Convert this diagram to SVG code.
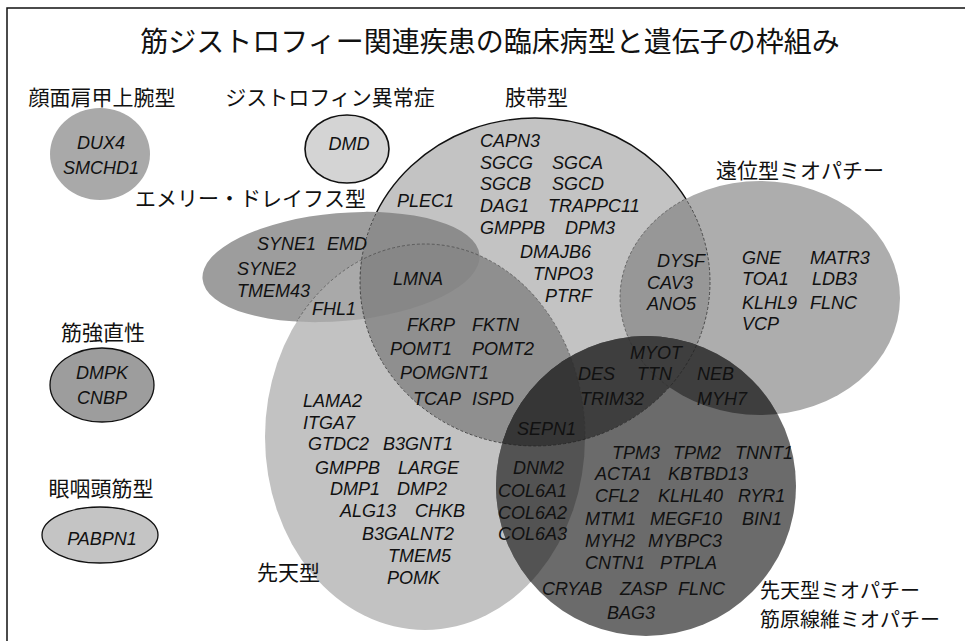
<svg xmlns="http://www.w3.org/2000/svg" width="965" height="641" viewBox="0 0 965 641">
<style>
.jp{font-family:"Noto Sans CJK JP","Noto Sans",sans-serif;fill:#111;}
.ttl{font-size:28px;}
.lbl{font-size:21px;}
.lbs{font-size:20px;}
.g{font-family:"Liberation Sans",Arial,sans-serif;font-style:italic;font-size:18px;fill:#111;}
.mid{text-anchor:middle;}
</style>
<defs>
<clipPath id="c-ed"><ellipse cx="341" cy="267" rx="139" ry="54" transform="rotate(-5 341 267)"/></clipPath>
<clipPath id="c-lg"><ellipse cx="535" cy="282" rx="175" ry="164"/></clipPath>
<clipPath id="c-cd"><ellipse cx="425" cy="437" rx="160" ry="193"/></clipPath>
<clipPath id="c-dm"><ellipse cx="760" cy="298" rx="140" ry="117"/></clipPath>
<clipPath id="c-cm"><circle cx="646" cy="486" r="150"/></clipPath>
<clipPath id="c-edlg"><ellipse cx="341" cy="267" rx="139" ry="54" transform="rotate(-5 341 267)"/><ellipse cx="535" cy="282" rx="175" ry="164"/></clipPath>
<mask id="m-solid">
<rect x="0" y="0" width="965" height="641" fill="#fff"/>
<ellipse cx="341" cy="267" rx="139" ry="54" transform="rotate(-5 341 267)" fill="#000"/>
<ellipse cx="760" cy="298" rx="140" ry="117" fill="#000"/>
<ellipse cx="425" cy="437" rx="160" ry="193" fill="#000"/>
<circle cx="646" cy="486" r="150" fill="#000"/>
</mask>
<mask id="m-dash">
<rect x="0" y="0" width="965" height="641" fill="#000"/>
<ellipse cx="341" cy="267" rx="139" ry="54" transform="rotate(-5 341 267)" fill="#fff"/>
<ellipse cx="760" cy="298" rx="140" ry="117" fill="#fff"/>
<ellipse cx="425" cy="437" rx="160" ry="193" fill="#fff"/>
<circle cx="646" cy="486" r="150" fill="#fff"/>
</mask>
</defs>

<rect x="0" y="0" width="965" height="641" fill="#fff"/>
<polyline points="7,641 7,8 965,8" fill="none" stroke="#111" stroke-width="1.5"/>

<g id="title"><text class="jp ttl mid" x="490" y="52">筋ジストロフィー関連疾患の臨床病型と遺伝子の枠組み</text></g>

<g id="node-fshd">
<ellipse cx="100" cy="154" rx="50" ry="46" fill="#a9a9a9"/>
<text class="jp lbl mid" x="102" y="105">顔面肩甲上腕型</text>
<text class="g mid" x="101" y="148.5">DUX4</text>
<text class="g mid" x="101" y="173.5">SMCHD1</text>
</g>

<g id="node-dmd">
<ellipse cx="347" cy="149" rx="42" ry="34" fill="#d4d4d4" stroke="#111" stroke-width="1.6"/>
<text class="jp lbl mid" x="330" y="105">ジストロフィン異常症</text>
<text class="g mid" x="349" y="149.5">DMD</text>
</g>

<g id="node-dm1">
<ellipse cx="102" cy="385" rx="52" ry="37" fill="#9d9d9d" stroke="#111" stroke-width="1.3"/>
<text class="jp lbl mid" x="103" y="340">筋強直性</text>
<text class="g mid" x="102" y="378.5">DMPK</text>
<text class="g mid" x="102" y="403.5">CNBP</text>
</g>

<g id="node-opmd">
<ellipse cx="100" cy="535" rx="58" ry="28" fill="#c4c4c4" stroke="#111" stroke-width="1.3"/>
<text class="jp lbl mid" x="101" y="496">眼咽頭筋型</text>
<text class="g mid" x="102" y="544.5">PABPN1</text>
</g>

<g id="node-edmd"><ellipse cx="341" cy="267" rx="139" ry="54" transform="rotate(-5 341 267)" fill="#9d9d9d"/></g>
<g id="node-lgmd"><ellipse cx="535" cy="282" rx="175" ry="164" fill="#c3c3c3"/></g>
<g id="node-cmd"><ellipse cx="425" cy="437" rx="160" ry="193" fill="#c2c2c2"/></g>
<g id="node-distal"><ellipse cx="760" cy="298" rx="140" ry="117" fill="#adadad"/></g>

<g id="overlaps">
<g clip-path="url(#c-lg)"><ellipse cx="341" cy="267" rx="139" ry="54" transform="rotate(-5 341 267)" fill="#8c8c8c"/></g>
<g clip-path="url(#c-cd)"><ellipse cx="341" cy="267" rx="139" ry="54" transform="rotate(-5 341 267)" fill="#a9a9a9"/></g>
<g clip-path="url(#c-cd)"><ellipse cx="535" cy="282" rx="175" ry="164" fill="#8f8f8f"/></g>
<g clip-path="url(#c-cd)"><g clip-path="url(#c-lg)"><ellipse cx="341" cy="267" rx="139" ry="54" transform="rotate(-5 341 267)" fill="#878787"/></g></g>
<g clip-path="url(#c-lg)"><ellipse cx="760" cy="298" rx="140" ry="117" fill="#979797"/></g>
</g>

<g id="node-cm"><circle cx="646" cy="486" r="150" fill="#6b6b6b"/></g>

<g id="overlaps-cm">
<g clip-path="url(#c-cd)"><circle cx="646" cy="486" r="150" fill="#535353"/></g>
<g clip-path="url(#c-cm)"><ellipse cx="535" cy="282" rx="175" ry="164" fill="#3e3e3e"/><ellipse cx="760" cy="298" rx="140" ry="117" fill="#3e3e3e"/></g>
<g clip-path="url(#c-cm)"><g clip-path="url(#c-cd)"><ellipse cx="535" cy="282" rx="175" ry="164" fill="#363636"/></g></g>
</g>

<g id="outlines" fill="none">
<ellipse cx="535" cy="282" rx="175" ry="164" stroke="#111" stroke-width="1.4" mask="url(#m-solid)"/>
<ellipse cx="535" cy="282" rx="175" ry="164" stroke="#222" stroke-width="1" stroke-dasharray="3 2" opacity="0.7" mask="url(#m-dash)"/>
<g clip-path="url(#c-edlg)"><ellipse cx="425" cy="437" rx="160" ry="193" stroke="#333" stroke-width="0.9" stroke-dasharray="3 2" opacity="0.6"/></g>
<g clip-path="url(#c-lg)"><ellipse cx="760" cy="298" rx="140" ry="117" stroke="#333" stroke-width="0.9" stroke-dasharray="3 2" opacity="0.6"/></g>
</g>

<g id="connectors"/>

<g id="labels">
<text class="jp lbl" x="505" y="105">肢帯型</text>
<text class="jp lbl" x="135" y="206">エメリー・ドレイフス型</text>
<text class="jp lbl" x="716" y="178">遠位型ミオパチー</text>
<text class="jp lbl" x="257" y="580">先天型</text>
<text class="jp lbs" x="760" y="598">先天型ミオパチー</text>
<text class="jp lbs" x="760" y="627">筋原線維ミオパチー</text>
</g>

<g id="genes-lgmd">
<text class="g" x="480" y="146.5">CAPN3</text>
<text class="g" x="480" y="168.5">SGCG</text><text class="g" x="552" y="168.5">SGCA</text>
<text class="g" x="480" y="189.5">SGCB</text><text class="g" x="552" y="189.5">SGCD</text>
<text class="g" x="480" y="211.5">DAG1</text><text class="g" x="548" y="211.5">TRAPPC11</text>
<text class="g" x="480" y="233.5">GMPPB</text><text class="g" x="565" y="233.5">DPM3</text>
<text class="g" x="520" y="257.5">DMAJB6</text>
<text class="g" x="533" y="280">TNPO3</text>
<text class="g" x="545" y="301.5">PTRF</text>
<text class="g" x="397" y="206.5">PLEC1</text>
</g>

<g id="genes-edmd">
<text class="g" x="257" y="249.5">SYNE1</text><text class="g" x="327" y="249.5">EMD</text>
<text class="g" x="237" y="274.5">SYNE2</text>
<text class="g" x="237" y="296.5">TMEM43</text>
<text class="g" x="312" y="314.5">FHL1</text>
<text class="g" x="393" y="284.5">LMNA</text>
</g>

<g id="genes-cmd">
<text class="g" x="407" y="330.5">FKRP</text><text class="g" x="472" y="330.5">FKTN</text>
<text class="g" x="390" y="354.5">POMT1</text><text class="g" x="472" y="354.5">POMT2</text>
<text class="g" x="400" y="378.5">POMGNT1</text>
<text class="g" x="413" y="404.5">TCAP</text><text class="g" x="472" y="404.5">ISPD</text>
<text class="g" x="303" y="406.5">LAMA2</text>
<text class="g" x="303" y="428.5">ITGA7</text>
<text class="g" x="308" y="449.5">GTDC2</text><text class="g" x="383" y="449.5">B3GNT1</text>
<text class="g" x="315" y="473.5">GMPPB</text><text class="g" x="398" y="473.5">LARGE</text>
<text class="g" x="330" y="494.5">DMP1</text><text class="g" x="397" y="494.5">DMP2</text>
<text class="g" x="340" y="516.5">ALG13</text><text class="g" x="415" y="516.5">CHKB</text>
<text class="g" x="362" y="539.5">B3GALNT2</text>
<text class="g" x="388" y="561.5">TMEM5</text>
<text class="g" x="387" y="583.5">POMK</text>
</g>

<g id="genes-distal">
<text class="g" x="657" y="266.5">DYSF</text>
<text class="g" x="647" y="288.5">CAV3</text>
<text class="g" x="647" y="309.5">ANO5</text>
<text class="g" x="742" y="263.5">GNE</text><text class="g" x="810" y="263.5">MATR3</text>
<text class="g" x="742" y="284.5">TOA1</text><text class="g" x="812" y="284.5">LDB3</text>
<text class="g" x="742" y="308.5">KLHL9</text><text class="g" x="810" y="308.5">FLNC</text>
<text class="g" x="742" y="329.5">VCP</text>
</g>

<g id="genes-cm">
<text class="g" x="630" y="358.5">MYOT</text>
<text class="g" x="578" y="379.5">DES</text><text class="g" x="637" y="379.5">TTN</text><text class="g" x="697" y="379.5">NEB</text>
<text class="g" x="580" y="404.5">TRIM32</text><text class="g" x="697" y="404.5">MYH7</text>
<text class="g" x="517" y="434.5">SEPN1</text>
<text class="g" x="612" y="458.5">TPM3</text><text class="g" x="673" y="458.5">TPM2</text><text class="g" x="735" y="458.5">TNNT1</text>
<text class="g" x="513" y="473.5">DNM2</text>
<text class="g" x="595" y="479.5">ACTA1</text><text class="g" x="668" y="479.5">KBTBD13</text>
<text class="g" x="498" y="496.5">COL6A1</text>
<text class="g" x="595" y="501.5">CFL2</text><text class="g" x="658" y="501.5">KLHL40</text><text class="g" x="738" y="501.5">RYR1</text>
<text class="g" x="498" y="518.5">COL6A2</text>
<text class="g" x="585" y="524.5">MTM1</text><text class="g" x="650" y="524.5">MEGF10</text><text class="g" x="742" y="524.5">BIN1</text>
<text class="g" x="498" y="539.5">COL6A3</text>
<text class="g" x="585" y="546.5">MYH2</text><text class="g" x="648" y="546.5">MYBPC3</text>
<text class="g" x="585" y="568.5">CNTN1</text><text class="g" x="660" y="568.5">PTPLA</text>
<text class="g" x="542" y="594.5">CRYAB</text><text class="g" x="620" y="594.5">ZASP</text><text class="g" x="678" y="594.5">FLNC</text>
<text class="g" x="607" y="618.5">BAG3</text>
</g>
</svg>
